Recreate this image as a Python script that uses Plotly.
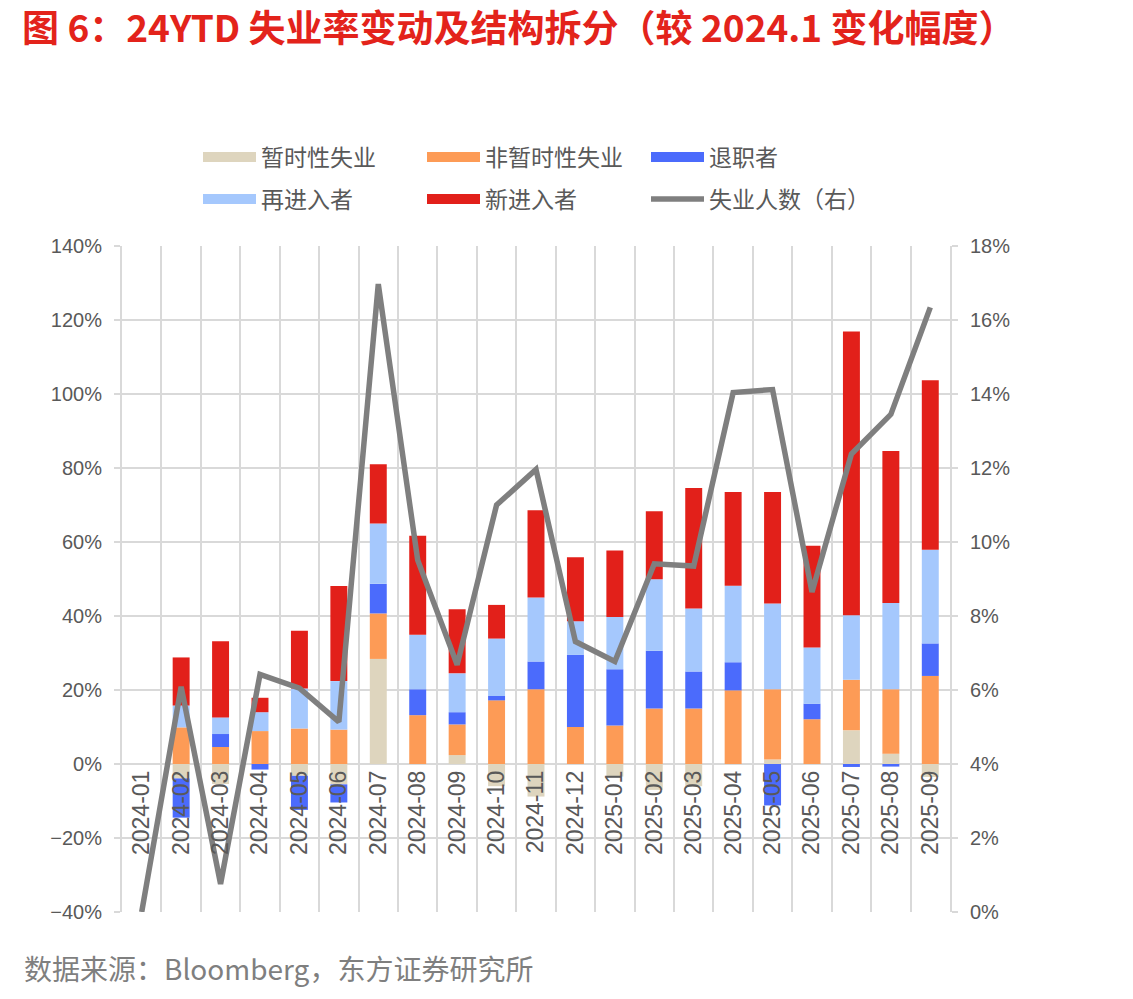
import plotly.graph_objects as go

W, H = 1133, 999
PL, PR, PT, PB = 122, 950, 246, 912  # plot area in pixels

months = ['2024-01', '2024-02', '2024-03', '2024-04', '2024-05', '2024-06', '2024-07',
          '2024-08', '2024-09', '2024-10', '2024-11', '2024-12', '2025-01', '2025-02',
          '2025-03', '2025-04', '2025-05', '2025-06', '2025-07', '2025-08', '2025-09']

temporary = [0, -3.9, -5.4, 0, -3.2, -5.5, 28.4, 0, 2.4, -6.0, -8.8, 0,
             -3.4, -7.0, -6.0, 0, 1.2, 0, 9.1, 2.8, -3.5]
permanent = [0, 9.9, 4.6, 8.9, 9.6, 9.3, 12.3, 13.2, 8.3, 17.2, 20.2, 10.0,
             10.4, 15.0, 15.0, 19.9, 19.0, 12.1, 13.7, 17.4, 23.8]
job_leavers = [0, -10.6, 3.5, -1.5, -9.2, -4.9, 8.0, 7.0, 3.3, 1.2, 7.5, 19.5,
               15.2, 15.6, 10.0, 7.6, -11.2, 4.2, -0.8, -0.7, 8.8]
reentrants = [0, 5.9, 4.5, 5.1, 10.8, 13.1, 16.3, 14.7, 10.5, 15.5, 17.3, 9.1,
              14.1, 19.3, 17.0, 20.7, 23.2, 15.2, 17.4, 23.3, 25.3]
new_entrants = [0, 13.0, 20.6, 3.9, 15.6, 25.7, 16.0, 26.8, 17.3, 9.1, 23.6, 17.3,
                18.0, 18.4, 32.6, 25.3, 30.1, 27.5, 76.7, 41.1, 45.8]
unemployed = [0.0, 6.09, 0.76, 6.42, 6.05, 5.14, 16.97, 9.51, 6.68, 11.0, 11.96, 7.31,
              6.77, 9.41, 9.35, 14.04, 14.12, 8.65, 12.38, 13.45, 16.34]

bar_series = [
    ('暂时性失业', temporary, '#DED5BE', 'legend'),
    ('非暂时性失业', permanent, '#FD9B56', 'legend'),
    ('退职者', job_leavers, '#4B6BFC', 'legend'),
    ('再进入者', reentrants, '#A5C8FD', 'legend2'),
    ('新进入者', new_entrants, '#E2201A', 'legend2'),
]
line_name = '失业人数（右）'
line_color = '#7F7F7F'
title_text = '<b>图 6：24YTD 失业率变动及结构拆分（较 2024.1 变化幅度）</b>'
source_text = '数据来源：Bloomberg，东方证券研究所'

LEFT_RANGE = [-40, 140]
RIGHT_RANGE = [0, 18]

fig = go.Figure()
for name, vals, color, lg in bar_series:
    fig.add_trace(go.Bar(x=months, y=vals, name=name, marker=dict(color=color, line=dict(width=0)),
                         showlegend=False, legendgroup=name, yaxis='y'))

# legend-only entries shaped like wide swatches
for name, vals, color, lg in bar_series:
    fig.add_trace(go.Scatter(x=[None], y=[None], mode='lines', name=name,
                             line=dict(color=color, width=13), legendgroup=name,
                             legend=lg, yaxis='y'))

fig.add_trace(go.Scatter(x=months, y=unemployed, name=line_name, mode='lines',
                         line=dict(color=line_color, width=5.5), yaxis='y2',
                         cliponaxis=False, legend='legend2'))

tick_font = dict(family='Liberation Sans, Arial, sans-serif', size=20, color='#595959')
grid_c = '#D9D9D9'
zero_frac = (0 - LEFT_RANGE[0]) / (LEFT_RANGE[1] - LEFT_RANGE[0])

legend_common = dict(orientation='h', xref='container', yref='container',
                     xanchor='left', yanchor='middle', itemwidth=53,
                     entrywidth=156, entrywidthmode='pixels', itemclick=False,
                     font=dict(family='Noto Sans CJK SC', size=23, color='#595959'),
                     bgcolor='rgba(0,0,0,0)')

fig.update_layout(
    width=W, height=H,
    margin=dict(l=PL, r=W - PR, t=PT, b=H - PB, autoexpand=False),
    paper_bgcolor='white', plot_bgcolor='white',
    barmode='relative', bargap=0.57,
    showlegend=True,
    xaxis=dict(type='category', tickson='boundaries', showgrid=True, gridcolor=grid_c, gridwidth=2,
               anchor='free', position=zero_frac, tickangle=-90, ticks='', showline=False,
               tickfont=dict(family='Liberation Sans, Arial, sans-serif', size=23, color='#595959'),
               ticklabelstandoff=1, range=[-0.5, len(months) - 0.5]),
    yaxis=dict(range=LEFT_RANGE, dtick=20, ticksuffix='%', showgrid=True, gridcolor=grid_c,
               gridwidth=2, zeroline=False, showline=True, linecolor=grid_c, linewidth=2,
               ticks='outside', ticklen=6, tickcolor=grid_c, tickwidth=2, tickfont=tick_font,
               ticklabelstandoff=8),
    yaxis2=dict(range=RIGHT_RANGE, dtick=2, ticksuffix='%', overlaying='y', side='right',
                showgrid=False, zeroline=False, showline=True, linecolor=grid_c, linewidth=2,
                ticks='outside', ticklen=6, tickcolor=grid_c, tickwidth=2, tickfont=tick_font,
                ticklabelstandoff=8),
    legend=dict(legend_common, x=(208 - 10) / W, y=1 - 157 / H),
    legend2=dict(legend_common, x=(208 - 10) / W, y=1 - 199 / H),
)

fig.add_annotation(text=title_text, xref='paper', yref='paper',
                   x=(20 - PL) / (PR - PL), y=(PB - 26) / (PB - PT), xanchor='left',
                   yanchor='middle', showarrow=False,
                   font=dict(family='Noto Sans CJK SC', size=37, color='#E3231B'))

fig.add_annotation(text=source_text, xref='paper', yref='paper',
                   x=(22 - PL) / (PR - PL), y=(PB - 968) / (PB - PT), xanchor='left',
                   yanchor='middle', showarrow=False,
                   font=dict(family='Noto Sans CJK SC', size=28, color='#7F7F7F'))

fig.write_html('out.html')
